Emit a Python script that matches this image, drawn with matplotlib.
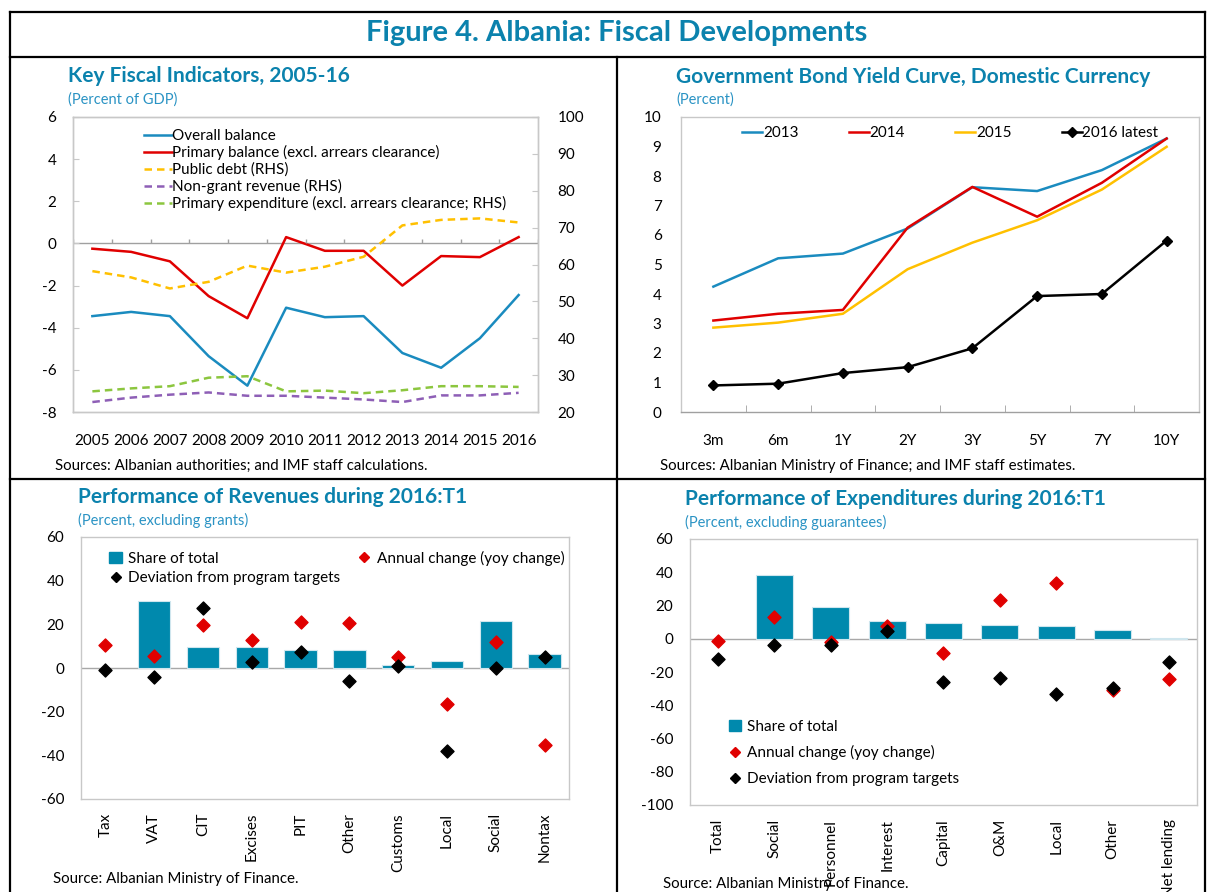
import matplotlib
matplotlib.use("Agg")
import matplotlib.pyplot as plt
from matplotlib.lines import Line2D
from matplotlib.patches import Patch
import numpy as np

plt.rcParams['font.family'] = ['Lato', 'DejaVu Sans']
plt.rcParams['axes.unicode_minus'] = False

# ---------------- Data ----------------
years = ['2005', '2006', '2007', '2008', '2009', '2010', '2011', '2012', '2013', '2014', '2015', '2016']
overall_balance = [-3.45, -3.25, -3.45, -5.35, -6.75, -3.05, -3.5, -3.45, -5.2, -5.9, -4.5, -2.45]
primary_balance = [-0.25, -0.4, -0.85, -2.5, -3.55, 0.3, -0.35, -0.35, -2.0, -0.6, -0.65, 0.3]
public_debt = [58.2, 56.5, 53.5, 55.3, 59.7, 57.8, 59.4, 62.1, 70.6, 72.1, 72.5, 71.4]
nongrant_revenue = [22.7, 23.9, 24.7, 25.3, 24.4, 24.4, 23.9, 23.4, 22.7, 24.5, 24.5, 25.2]
primary_expenditure = [25.6, 26.4, 27.0, 29.3, 29.7, 25.6, 25.8, 25.1, 25.9, 27.0, 27.0, 26.8]

maturities = ['3m', '6m', '1Y', '2Y', '3Y', '5Y', '7Y', '10Y']
yc_2013 = [4.25, 5.21, 5.37, 6.22, 7.62, 7.49, 8.2, 9.27]
yc_2014 = [3.1, 3.33, 3.46, 6.25, 7.63, 6.62, 7.77, 9.27]
yc_2015 = [2.86, 3.03, 3.33, 4.84, 5.74, 6.5, 7.54, 8.99]
yc_2016 = [0.9, 0.96, 1.32, 1.52, 2.16, 3.93, 4.0, 5.81]

rev_cats = ['Tax', 'VAT', 'CIT', 'Excises', 'PIT', 'Other', 'Customs', 'Local', 'Social', 'Nontax']
rev_share = [np.nan, 30.8, 9.6, 9.5, 8.2, 8.2, 1.2, 3.2, 21.4, 6.6]
rev_annual = [10.7, 5.6, 19.7, 12.8, 21.1, 20.5, 5.2, -16.6, 12.1, -35.1]
rev_deviation = [-1.1, -4.1, 27.3, 2.6, 7.2, -6.1, 0.8, -38.2, -0.2, 4.9]

exp_cats = ['Total', 'Social', 'Personnel', 'Interest', 'Capital', 'O&M', 'Local', 'Other', 'Net lending']
exp_share = [np.nan, 38.6, 19.3, 10.4, 9.6, 8.2, 7.8, 5.4, 0.4]
exp_annual = [-1.2, 13.1, -2.0, 7.4, -8.4, 23.1, 33.7, -30.7, -24.1]
exp_deviation = [-12.4, -3.8, -3.8, 4.8, -26.1, -23.7, -33.3, -29.9, -13.7]

# ---------------- Style ----------------
TEAL = '#0b82ad'
SUB = '#2a93c4'
BAR = '#0089ad'
BLUE = '#1a8bbf'
RED = '#e00000'
GOLD = '#ffc000'
PURPLE = '#8e5fb6'
GREEN = '#8cc63f'
SPINE = '#c8c8c8'
TICKFS = 11
LEGFS = 11
TITLEFS = 15
SUBFS = 10.5
SRCFS = 10.8

W, H = 1207, 892
fig = plt.figure(figsize=(W / 100, H / 100), dpi=100)


def fx(px):
    return px / W


def fy(py):
    return 1 - py / H


def ax_rect(l, t, r, b):
    return [fx(l), fy(b), fx(r) - fx(l), fy(t) - fy(b)]


def style_spines(ax):
    for s in ax.spines.values():
        s.set_color(SPINE)
        s.set_linewidth(1.0)


# Frame lines
lw_frame = 1.6
fig.add_artist(Line2D([fx(10), fx(1205)], [fy(12), fy(12)], color='black', lw=lw_frame))
fig.add_artist(Line2D([fx(10), fx(1205)], [fy(57), fy(57)], color='black', lw=lw_frame))
fig.add_artist(Line2D([fx(10), fx(1205)], [fy(479), fy(479)], color='black', lw=lw_frame))
fig.add_artist(Line2D([fx(10), fx(10)], [fy(12), fy(892)], color='black', lw=lw_frame))
fig.add_artist(Line2D([fx(1205), fx(1205)], [fy(12), fy(892)], color='black', lw=lw_frame))
fig.add_artist(Line2D([fx(617), fx(617)], [fy(57), fy(892)], color='black', lw=lw_frame))

fig.text(fx(617), fy(33), 'Figure 4. Albania: Fiscal Developments', color=TEAL,
         fontsize=21, fontweight='bold', ha='center', va='center')

# ---------------- Panel 1 ----------------
ax1 = fig.add_axes(ax_rect(73, 117, 538, 412))
x = np.arange(len(years))
ax1.plot(x, overall_balance, color=BLUE, lw=1.8, label='Overall balance')
ax1.plot(x, primary_balance, color=RED, lw=1.8, label='Primary balance (excl. arrears clearance)')
ax1.set_ylim(-8, 6)
ax1.set_yticks(np.arange(-8, 7, 2))
ax1.set_xlim(-0.5, len(years) - 0.5)
ax1.set_xticks(x)
ax1.set_xticklabels(years)
ax1.tick_params(axis='x', length=0, pad=16, labelsize=TICKFS)
ax1.tick_params(axis='y', direction='in', length=4, color=SPINE, labelsize=TICKFS, pad=12)
ax1.axhline(0, color='#a0a0a0', lw=1.0, zorder=1)
ax1.vlines(np.arange(len(years) + 1) - 0.5, 0, 0.2, color='#a0a0a0', lw=1.0)
style_spines(ax1)
ax1b = ax1.twinx()
ax1b.plot(x, public_debt, color=GOLD, lw=1.8, ls=(0, (3, 2)), label='Public debt (RHS)')
ax1b.plot(x, nongrant_revenue, color=PURPLE, lw=1.8, ls=(0, (3, 2)), label='Non-grant revenue (RHS)')
ax1b.plot(x, primary_expenditure, color=GREEN, lw=1.8, ls=(0, (3, 2)),
          label='Primary expenditure (excl. arrears clearance; RHS)')
ax1b.set_ylim(20, 100)
ax1b.set_yticks(np.arange(20, 101, 10))
ax1b.tick_params(axis='y', direction='in', length=4, color=SPINE, labelsize=TICKFS, pad=14)
style_spines(ax1b)
h1, l1 = ax1.get_legend_handles_labels()
h2, l2 = ax1b.get_legend_handles_labels()
ax1b.legend(h1 + h2, l1 + l2, loc='upper left', bbox_to_anchor=(0.13, 0.995), frameon=False,
            fontsize=LEGFS, handlelength=1.8, handletextpad=0.05, labelspacing=0.14, borderpad=0.2)
fig.text(fx(68), fy(76), 'Key Fiscal Indicators, 2005-16', color=TEAL, fontsize=TITLEFS,
         fontweight='bold', ha='left', va='center')
fig.text(fx(68), fy(100), '(Percent of GDP)', color=SUB, fontsize=SUBFS, ha='left', va='center')
fig.text(fx(55), fy(466), 'Sources: Albanian authorities; and IMF staff calculations.', fontsize=SRCFS,
         ha='left', va='center')

# ---------------- Panel 2 ----------------
ax2 = fig.add_axes(ax_rect(681, 117, 1199, 412))
xm = np.arange(len(maturities))
ax2.plot(xm, yc_2013, color=BLUE, lw=1.8, label='2013')
ax2.plot(xm, yc_2014, color=RED, lw=1.8, label='2014')
ax2.plot(xm, yc_2015, color=GOLD, lw=1.8, label='2015')
ax2.plot(xm, yc_2016, color='black', lw=1.8, marker='D', ms=5, label='2016 latest')
ax2.set_ylim(0, 10)
ax2.set_yticks(np.arange(0, 11, 1))
ax2.set_xlim(-0.5, len(maturities) - 0.5)
ax2.set_xticks(xm)
ax2.set_xticklabels(maturities)
ax2.set_xticks(np.arange(len(maturities) + 1) - 0.5, minor=True)
ax2.tick_params(axis='x', which='major', length=0, pad=16, labelsize=TICKFS)
ax2.tick_params(axis='x', which='minor', direction='in', length=5, color='#a0a0a0')
ax2.tick_params(axis='y', length=0, labelsize=TICKFS, pad=14)
style_spines(ax2)
ax2.spines['bottom'].set_color('#a0a0a0')
ax2.legend(loc='upper center', ncol=4, frameon=False, fontsize=LEGFS, handlelength=1.3,
           handletextpad=0.05, columnspacing=3.3, bbox_to_anchor=(0.52, 1.005), borderpad=0.2)
fig.text(fx(676), fy(77), 'Government Bond Yield Curve, Domestic Currency', color=TEAL, fontsize=TITLEFS,
         fontweight='bold', ha='left', va='center')
fig.text(fx(676), fy(100), '(Percent)', color=SUB, fontsize=SUBFS, ha='left', va='center')
fig.text(fx(660), fy(466), 'Sources: Albanian Ministry of Finance; and IMF staff estimates.', fontsize=SRCFS,
         ha='left', va='center')


# ---------------- Bottom panels ----------------
def perf_panel(rect, cats, share, annual, deviation, ylim, step, order, legend_kw):
    ax = fig.add_axes(rect)
    xc = np.arange(len(cats))
    ax.bar(xc, share, width=0.66, color=BAR, edgecolor='#cfe6ee', lw=0.8, zorder=2)
    ax.axhline(0, color='#a8a8a8', lw=1.0, zorder=1)
    ax.scatter(xc, annual, marker='D', s=44, color=RED, zorder=3)
    ax.scatter(xc, deviation, marker='D', s=44, color='black', zorder=4)
    ax.set_ylim(*ylim)
    ax.set_yticks(np.arange(ylim[0], ylim[1] + 1, step))
    ax.set_xlim(-0.5, len(cats) - 0.5)
    ax.set_xticks(xc)
    ax.set_xticklabels(cats, rotation=90)
    ax.tick_params(axis='x', length=0, pad=10, labelsize=TICKFS)
    ax.tick_params(axis='y', length=0, labelsize=TICKFS, pad=12)
    style_spines(ax)
    handles = [Patch(color=BAR, label='Share of total'),
               Line2D([], [], marker='D', ls='none', color=RED, ms=5, label='Annual change (yoy change)'),
               Line2D([], [], marker='D', ls='none', color='black', ms=5, label='Deviation from program targets')]
    handles = [handles[i] for i in order]
    ax.legend(handles=handles, frameon=False, fontsize=LEGFS, handlelength=0.8, handletextpad=0.4,
              **legend_kw)
    return ax


perf_panel(ax_rect(81, 537, 569, 799), rev_cats, rev_share, rev_annual, rev_deviation, (-60, 60), 20,
           [0, 2, 1],
           dict(loc='upper left', ncol=2, bbox_to_anchor=(0.03, 1.0), columnspacing=1.2, labelspacing=0.35))
fig.text(fx(78), fy(497), 'Performance of Revenues during 2016:T1', color=TEAL, fontsize=TITLEFS,
         fontweight='bold', ha='left', va='center')
fig.text(fx(78), fy(520), '(Percent, excluding grants)', color=SUB, fontsize=SUBFS, ha='left', va='center')
fig.text(fx(53), fy(879), 'Source: Albanian Ministry of Finance.', fontsize=SRCFS, ha='left', va='center')

perf_panel(ax_rect(690, 539, 1197, 805), exp_cats, exp_share, exp_annual, exp_deviation, (-100, 60), 20,
           [0, 1, 2],
           dict(loc='lower left', ncol=1, bbox_to_anchor=(0.05, 0.02), labelspacing=0.75))
fig.text(fx(685), fy(499), 'Performance of Expenditures during 2016:T1', color=TEAL, fontsize=TITLEFS,
         fontweight='bold', ha='left', va='center')
fig.text(fx(685), fy(522), '(Percent, excluding guarantees)', color=SUB, fontsize=SUBFS, ha='left',
         va='center')
fig.text(fx(663), fy(884), 'Source: Albanian Ministry of Finance.', fontsize=SRCFS, ha='left', va='center')

fig.savefig('out.png', dpi=100)
